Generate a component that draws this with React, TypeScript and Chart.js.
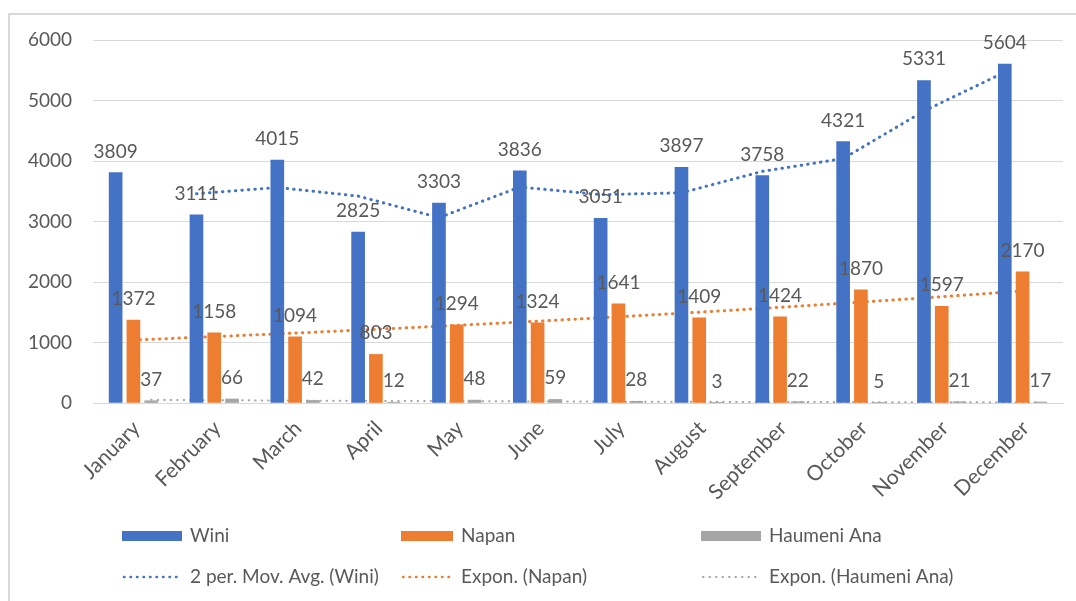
import React, { useEffect, useRef } from "react";
import { Chart, registerables } from "chart.js";

Chart.register(...registerables);

const months = [
  "January", "February", "March", "April", "May", "June",
  "July", "August", "September", "October", "November", "December",
];
const wini = [3809, 3111, 4015, 2825, 3303, 3836, 3051, 3897, 3758, 4321, 5331, 5604];
const napan = [1372, 1158, 1094, 803, 1294, 1324, 1641, 1409, 1424, 1870, 1597, 2170];
const haumeni = [37, 66, 42, 12, 48, 59, 28, 3, 22, 5, 21, 17];
const winiMovAvg = [null, 3460, 3563, 3420, 3064, 3570, 3444, 3474, 3828, 4040, 4826, 5468];
const napanExpTrend = [1041, 1097, 1156, 1218, 1283, 1352, 1425, 1501, 1582, 1667, 1757, 1851];
const haumeniExpTrend = [52, 45, 39, 34, 29, 25, 22, 19, 16, 14, 12, 10];
const yTickValues = [0, 1000, 2000, 3000, 4000, 5000, 6000];

const seriesNames = ["Wini", "Napan", "Haumeni Ana"];
const trendNames = ["2 per. Mov. Avg. (Wini)", "Expon. (Napan)", "Expon. (Haumeni Ana)"];
const colors = ["#4472C4", "#ED7D31", "#A5A5A5"];

const FONT = "Lato, 'Open Sans', sans-serif";
const TEXT = "#595959";
// group layout: share of a category taken by one bar slot, bar thickness in px
const SLOT = 0.22;
const BAR_PX = 13;

const barLabels = {
  id: "barLabels",
  afterDatasetsDraw(chart: any) {
    const ctx = chart.ctx;
    ctx.save();
    ctx.font = `19px ${FONT}`;
    ctx.fillStyle = TEXT;
    ctx.textAlign = "center";
    ctx.textBaseline = "alphabetic";
    chart.data.datasets.forEach((ds: any, i: number) => {
      if (ds.type !== "bar") return;
      const meta = chart.getDatasetMeta(i);
      meta.data.forEach((el: any, j: number) => {
        ctx.fillText(String(ds.data[j].y), el.x, el.y - 15);
      });
    });
    ctx.restore();
  },
};

const customLegend = {
  id: "customLegend",
  afterDraw(chart: any) {
    const ctx = chart.ctx;
    ctx.save();
    ctx.font = `19px ${FONT}`;
    ctx.textBaseline = "middle";
    const cols = [
      { x: 122, w: 60 },
      { x: 401, w: 52 },
      { x: 701, w: 60 },
    ];
    const row1 = 536;
    const row2 = 577;
    cols.forEach((c, i) => {
      ctx.fillStyle = colors[i];
      ctx.fillRect(c.x, row1 - 5, c.w, 10);
      ctx.fillStyle = TEXT;
      ctx.textAlign = "left";
      ctx.fillText(seriesNames[i], c.x + c.w + 8, row1);
      ctx.beginPath();
      ctx.strokeStyle = colors[i];
      ctx.lineWidth = i === 2 ? 2 : 2.5;
      ctx.lineCap = "round";
      ctx.setLineDash([0.5, 6]);
      ctx.moveTo(c.x + 2, row2);
      ctx.lineTo(c.x + c.w - 2, row2);
      ctx.stroke();
      ctx.setLineDash([]);
      ctx.fillText(trendNames[i], c.x + c.w + 8, row2);
    });
    ctx.restore();
  },
};

export default function App() {
  const ref = useRef<HTMLCanvasElement | null>(null);

  useEffect(() => {
    if (!ref.current) return;
    const offs = [-SLOT, 0, SLOT];
    const toPts = (arr: (number | null)[], k: number) =>
      arr.map((v, i) => ({ x: i + offs[k], y: v }));
    const barStyle = (k: number) => ({
      type: "bar" as const,
      xAxisID: "xl",
      label: seriesNames[k],
      backgroundColor: colors[k],
      grouped: false,
      barThickness: BAR_PX,
      order: 0,
    });
    const lineStyle = (k: number) => ({
      type: "line" as const,
      xAxisID: "xl",
      label: trendNames[k],
      borderColor: colors[k],
      borderWidth: k === 2 ? 2 : 3,
      borderDash: [0.5, 6],
      borderCapStyle: "round" as const,
      pointRadius: 0,
      fill: false,
      tension: 0,
      order: 1,
      spanGaps: false,
    });
    const chart = new Chart(ref.current, {
      data: {
        labels: months,
        datasets: [
          { ...barStyle(0), data: toPts(wini, 0) },
          { ...barStyle(1), data: toPts(napan, 1) },
          { ...barStyle(2), data: toPts(haumeni, 2) },
          { ...lineStyle(0), data: toPts(winiMovAvg, 0) },
          { ...lineStyle(1), data: toPts(napanExpTrend, 1) },
          { ...lineStyle(2), data: toPts(haumeniExpTrend, 2) },
        ] as any,
      },
      options: {
        responsive: false,
        animation: false,
        layout: { padding: { top: 40, right: 13, bottom: 0, left: 0 } },
        plugins: { legend: { display: false }, tooltip: { enabled: false } },
        scales: {
          x: {
            type: "category",
            offset: true,
            grid: { display: false, drawTicks: false },
            border: { display: true, color: "#d9d9d9", width: 1 },
            ticks: {
              color: TEXT,
              font: { size: 21, family: FONT },
              minRotation: 45,
              maxRotation: 45,
              autoSkip: false,
              padding: 13,
              labelOffset: 3,
            },
            afterFit: (s: any) => { s.height = 198; },
          },
          xl: {
            type: "linear",
            display: false,
            offset: false,
            grid: { offset: false },
            min: -0.5,
            max: 11.5,
          },
          y: {
            min: 0,
            max: 6000,
            afterBuildTicks: (s: any) => { s.ticks = yTickValues.map((v) => ({ value: v })); },
            grid: { color: "#d9d9d9", lineWidth: 1, drawTicks: false },
            border: { display: false },
            ticks: {
              color: TEXT,
              font: { size: 19, family: FONT },
              padding: 21,
              callback: (v: any) => String(v),
            },
            afterFit: (s: any) => { s.width = 93; },
          },
        },
      },
      plugins: [barLabels, customLegend],
    });
    return () => chart.destroy();
  }, []);

  return (
    <>
      <style>{`html,body{margin:0;overflow:hidden;background:#fff;}`}</style>
      <div
        style={{
          position: "fixed",
          left: 8,
          top: 13,
          width: 1200,
          height: 800,
          border: "2px solid #d9d9d9",
          boxSizing: "border-box",
        }}
      />
      <canvas
        ref={ref}
        width={1076}
        height={601}
        style={{ position: "fixed", left: 0, top: 0, width: 1076, height: 601 }}
      />
    </>
  );
}
